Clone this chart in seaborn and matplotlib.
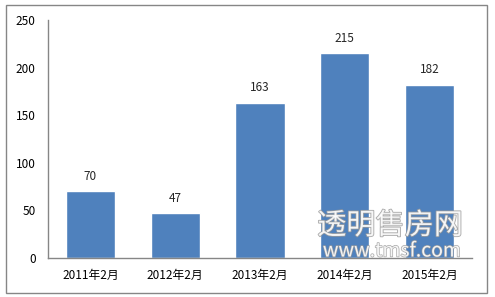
import matplotlib
matplotlib.use("Agg")
import matplotlib.pyplot as plt
import seaborn as sns
import pandas as pd
from matplotlib.patches import Rectangle
import matplotlib.patheffects as pe

categories = ["2011年2月", "2012年2月", "2013年2月", "2014年2月", "2015年2月"]
values = [70, 47, 163, 215, 182]
yticks = [0, 50, 100, 150, 200, 250]

sns.set_theme(style="white")
plt.rcParams['font.family'] = ['Noto Sans CJK SC', 'DejaVu Sans']

W, H = 495, 297
fig = plt.figure(figsize=(W / 100, H / 100), dpi=100)
fig.patch.set_facecolor("white")

# outer border
fig.add_artist(Rectangle((6 / W, 1 - 293 / H), (487 - 6) / W, (293 - 5) / H,
                         transform=fig.transFigure, fill=False,
                         edgecolor="#868686", linewidth=1.0))

ax = fig.add_axes([48 / W, 1 - 258 / H, (472 - 48) / W, (258 - 20) / H])
df = pd.DataFrame({"cat": categories, "val": values})
sns.barplot(data=df, x="cat", y="val", color="#4F81BD", saturation=1,
            width=0.58, ax=ax)
ax.set_ylim(0, 250)
ax.set_xlim(-0.5, len(categories) - 0.5)
ax.set_yticks(yticks)
ax.set_yticklabels([str(t) for t in yticks])
ax.set_xlabel("")
ax.set_ylabel("")
for s in ["top", "right"]:
    ax.spines[s].set_visible(False)
for s in ["left", "bottom"]:
    ax.spines[s].set_color("#868686")
    ax.spines[s].set_linewidth(1.0)
ax.tick_params(axis="both", length=0, labelsize=8.5, colors="black")
ax.tick_params(axis="y", pad=9)
ax.tick_params(axis="x", pad=8)
for c in ax.containers:
    ax.bar_label(c, labels=[str(v) for v in values], padding=6, fontsize=8.5)

# watermark
fig.text(390 / W, 1 - 226 / H, "透明售房网", ha="center", va="center",
         fontsize=21, color="white", alpha=0.85,
         path_effects=[pe.withStroke(linewidth=1.2, foreground="#9a9a9a")])
fig.text(392 / W, 1 - 251 / H, "www.tmsf.com", ha="center", va="center",
         fontsize=14, color="white", alpha=0.85,
         path_effects=[pe.withStroke(linewidth=1.0, foreground="#9a9a9a")])

fig.savefig("out.png", dpi=100, facecolor="white")
